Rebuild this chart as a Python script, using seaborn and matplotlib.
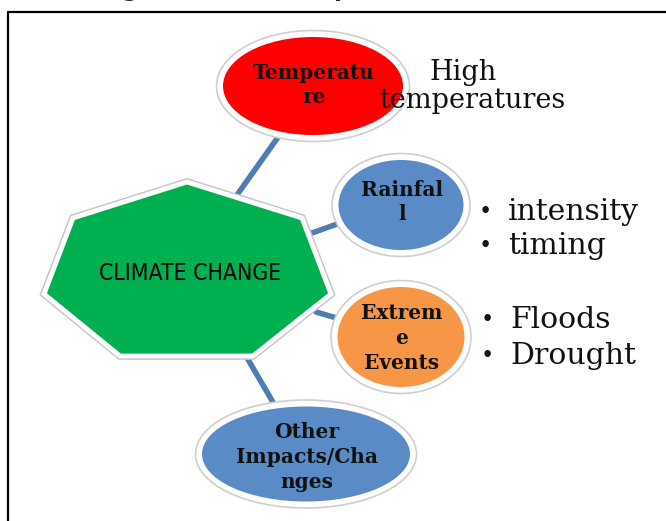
import matplotlib

matplotlib.use("Agg")
import matplotlib.pyplot as plt
import pandas as pd
import seaborn as sns
from matplotlib.patches import Ellipse, Polygon

# node labels and fill colours (the diagram "data")
hub_label = "CLIMATE CHANGE"
hub_color = "#00b050"
node_labels = ["Temperatu\nre", "Rainfal\nl", "Extrem\ne\nEvents", "Other\nImpacts/Cha\nnges"]
node_colors = ["#ff0000", "#5b8bc6", "#f79646", "#5b8bc6"]
side_lines = [["High", "temperatures"], ["intensity", "timing"], ["Floods", "Drought"], []]
side_bullets = [False, True, True, False]
link_color = "#4f7cb3"

# layout in pixel coordinates (y goes down)
hub_xy = [(187, 182), (302, 218), (331, 294), (253, 356), (120, 356), (44, 294), (73, 218)]
node_xy = [(313, 86), (401, 205), (401, 337), (306, 454)]
node_wh = [(180, 98), (125, 90), (127, 100), (208, 95)]
text_dy = [-1, -3, 1, 3]
links = [((237, 195), (281, 133)), ((312, 233), (340, 223)),
         ((316, 312), (340, 319)), ((246, 356), (274, 404))]
side_xy = [[(463, 73), (472, 101)], [(508, 212), (508, 246)], [(510, 320), (510, 356)], []]

sns.set_theme(style="white")
serif = ["DejaVu Serif"]

fig = plt.figure(figsize=(6.66, 5.21), dpi=100)
ax = fig.add_axes([0, 0, 1, 1])

# connectors, drawn first so the shapes sit on top
link_df = pd.DataFrame(
    [{"link": i, "x": p[0], "y": p[1]} for i, seg in enumerate(links) for p in seg]
)
sns.lineplot(data=link_df, x="x", y="y", units="link", estimator=None, sort=False,
             color=link_color, lw=4, ax=ax, legend=False, zorder=1)

# central heptagon with white rim
ax.add_patch(Polygon(hub_xy, closed=True, fc="white", ec="#c4c4c4", lw=5.5, zorder=2))
ax.add_patch(Polygon(hub_xy, closed=True, fc=hub_color, ec="white", lw=3.5, zorder=3))
ax.text(190, 273, hub_label, ha="center", va="center", fontsize=16.5, zorder=5,
        family=["DejaVu Sans"], stretch="condensed", color="black")

for label, color, (cx, cy), (w, h), dy in zip(node_labels, node_colors, node_xy, node_wh, text_dy):
    ax.add_patch(Ellipse((cx, cy), w + 13, h + 13, fc="white", ec="#cfcfcf", lw=1.2, zorder=2))
    ax.add_patch(Ellipse((cx, cy), w, h, fc=color, ec="none", zorder=3))
    ax.text(cx + 1, cy + dy, label, ha="center", va="center",
            fontsize=14.5, fontweight="bold", family=serif, linespacing=1.3,
            color="#111111", zorder=5)

for lines, pos, bullet in zip(side_lines, side_xy, side_bullets):
    for txt, (x, y) in zip(lines, pos):
        if bullet:
            ax.text(x - 23, y, "•", ha="center", va="center", fontsize=16,
                    family=serif, color="#111111", zorder=5)
            ax.text(x, y, txt, ha="left", va="center", fontsize=21.5,
                    family=serif, color="#111111", zorder=5)
        else:
            ax.text(x, y, txt, ha="center", va="center", fontsize=19.5,
                    family=serif, color="#111111", zorder=5)

# frame of the cropped figure box
ax.plot([8, 666], [12, 12], color="black", lw=1.6, zorder=6)
ax.plot([8, 8], [12, 521], color="black", lw=1.6, zorder=6)

# descenders of the caption line that is cut off above the box
ax.text(130, -4, "g", ha="center", va="baseline", fontsize=17, fontweight="bold",
        family=["DejaVu Sans"], zorder=6, clip_on=False)
ax.text(342, -4, "p", ha="center", va="baseline", fontsize=17, fontweight="bold",
        family=["DejaVu Sans"], zorder=6, clip_on=False)

ax.set_xlim(0, 666)
ax.set_ylim(521, 0)
ax.set_xlabel("")
ax.set_ylabel("")
ax.axis("off")

fig.savefig("out.png", dpi=100)
